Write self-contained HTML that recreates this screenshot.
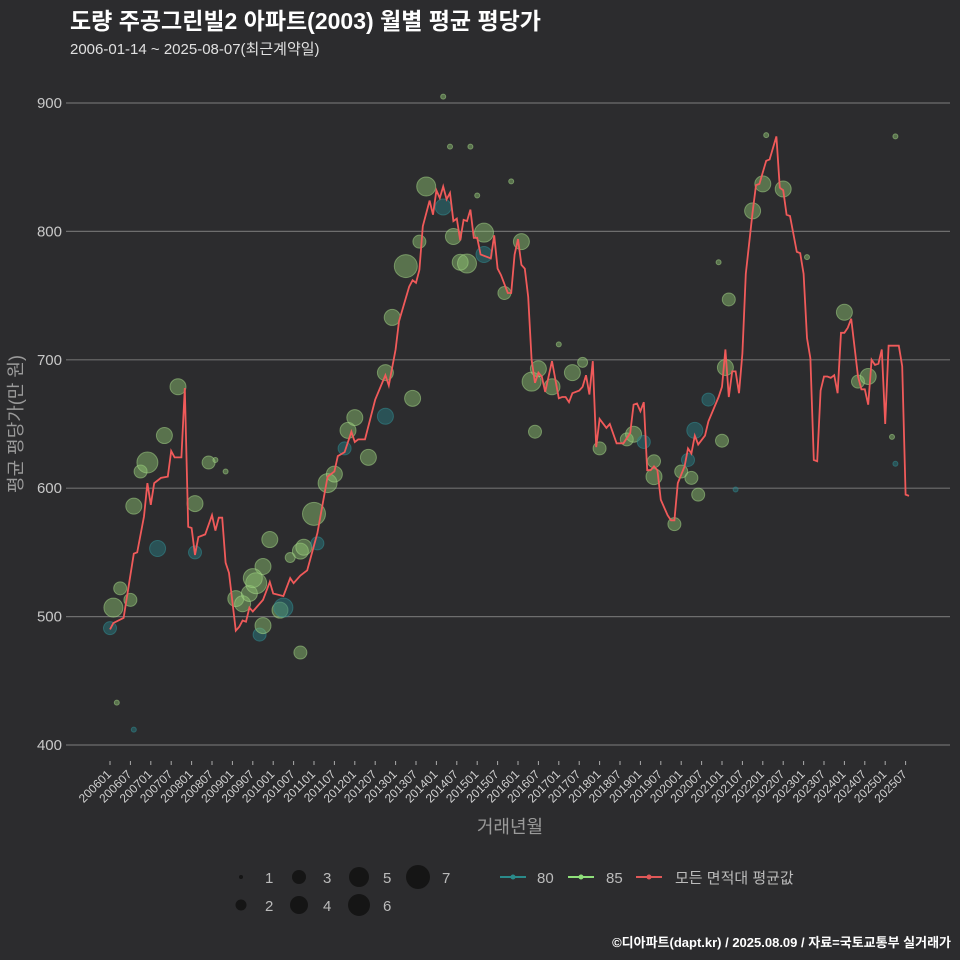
<!DOCTYPE html>
<html><head><meta charset="utf-8"><style>
body{margin:0;background:#2c2c2e;}
svg{display:block;font-family:"Liberation Sans","Noto Sans CJK KR",sans-serif;}
</style></head><body>
<svg id="chart" width="960" height="960" viewBox="0 0 960 960">
<rect width="960" height="960" fill="#2c2c2e"/>
<text x="70" y="29" fill="#ffffff" font-size="23" font-weight="bold">도량 주공그린빌2 아파트(2003) 월별 평균 평당가</text>
<text x="70" y="54" fill="#e0e0e0" font-size="15">2006-01-14 ~ 2025-08-07(최근계약일)</text>
<g id="grid"></g>
<g id="xaxis"></g>
<g id="bubbles"></g>
<g id="line"></g>
<text transform="translate(22,424) rotate(-90)" text-anchor="middle" fill="#9a9a9a" font-size="18">평균 평당가(만 원)</text>
<text x="510" y="833" text-anchor="middle" fill="#9a9a9a" font-size="18">거래년월</text>
<g font-size="15" fill="#bbbbbb">
  <circle cx="241" cy="877" r="2" fill="#151515"/>
  <text x="265" y="883">1</text>
  <circle cx="241" cy="905" r="5.5" fill="#151515"/>
  <text x="265" y="911">2</text>
  <circle cx="299" cy="877" r="7" fill="#151515"/>
  <text x="323" y="883">3</text>
  <circle cx="299" cy="905" r="9" fill="#151515"/>
  <text x="323" y="911">4</text>
  <circle cx="359" cy="877" r="10" fill="#151515"/>
  <text x="383" y="883">5</text>
  <circle cx="359" cy="905" r="11" fill="#151515"/>
  <text x="383" y="911">6</text>
  <circle cx="418" cy="877" r="12" fill="#151515"/>
  <text x="442" y="883">7</text>
  <line x1="500" y1="877" x2="526" y2="877" stroke="#2a8a8a" stroke-width="2"/>
  <circle cx="513" cy="877" r="2.5" fill="#2a8a8a"/>
  <text x="537" y="883">80</text>
  <line x1="568" y1="877" x2="594" y2="877" stroke="#8fe07a" stroke-width="2"/>
  <circle cx="581" cy="877" r="2.5" fill="#8fe07a"/>
  <text x="606" y="883">85</text>
  <line x1="636" y1="877" x2="662" y2="877" stroke="#e05858" stroke-width="2"/>
  <circle cx="649" cy="877" r="2.5" fill="#e05858"/>
  <text x="675" y="883">모든 면적대 평균값</text>
</g>
<text x="951" y="947" text-anchor="end" fill="#ffffff" font-size="13" font-weight="bold">©디아파트(dapt.kr) / 2025.08.09 / 자료=국토교통부 실거래가</text>
</svg>
<script>
const yTicks=[400,500,600,700,800,900];
const xTickLabels=["200601","200607","200701","200707","200801","200807","200901","200907","201001","201007","201101","201107","201201","201207","201301","201307","201401","201407","201501","201507","201601","201607","201701","201707","201801","201807","201901","201907","202001","202007","202101","202107","202201","202207","202301","202307","202401","202407","202501","202507"];
// average line: month index from 2006-01, value
const lineMonths=[0,1,4,7,8,10,11,12,13,15,17,18,19,21,22,23,24,25,26,28,30,31,32,33,34,35,37,38,39,40,41,42,45,47,48,51,53,54,56,58,61,64,66,67,69,71,72,73,75,78,81,82,84,85,88,89,90,91,92,94,95,96,97,98,99,100,101,102,103,104,105,106,107,108,109,112,113,114,115,117,118,119,120,121,122,123,124,125,126,127,128,130,132,133,134,135,136,138,139,140,141,142,143,144,146,147,149,151,153,154,155,156,157,158,159,160,161,162,164,165,166,167,169,170,171,172,173,175,176,179,180,181,182,183,184,185,186,187,189,190,191,193,194,196,197,198,199,200,202,203,204,205,206,207,208,209,210,211,212,213,214,215,216,217,218,220,221,222,223,224,225,226,227,228,229,232,233,234,235];
const lineValues=[490,495,499,549,550,578,604,587,604,608,609,629,624,624,678,570,569,548,562,564,579,567,577,577,542,534,489,492,497,496,507,504,513,527,518,516,530,526,532,536,565,609,613,625,628,644,636,638,638,669,688,680,708,730,757,762,760,770,804,824,813,832,826,835,825,830,808,810,793,809,808,817,795,795,782,779,797,771,766,752,752,782,794,774,771,749,700,682,690,687,675,699,670,671,671,667,674,676,679,688,673,699,632,654,647,650,635,635,643,665,666,660,667,614,614,617,614,591,579,575,575,604,617,631,627,641,634,641,652,671,679,708,671,691,691,674,705,767,815,836,837,855,856,874,834,832,813,812,784,783,767,717,701,622,621,676,687,687,686,688,674,721,721,725,732,687,677,677,665,700,696,697,708,650,711,711,695,595,594];
// bubbles: month index, value, contract count, area type
const bubbleMonths=[0,1,3,2,7,6,7,9,11,14,16,20,25,25,29,31,34,37,39,41,43,44,45,45,47,42,50,51,53,56,56,57,60,61,64,66,69,70,72,76,81,81,83,87,89,91,93,98,101,103,105,110,110,116,121,124,125,126,130,136,139,144,152,154,160,160,166,168,170,171,172,173,176,180,181,182,189,192,198,216,220,223,157,98,100,106,108,118,132,231,179,184,230,193,205,231];
const bubbleValues=[491,507,522,433,412,513,586,613,620,553,641,679,588,550,620,622,613,514,510,518,526,486,493,539,560,530,505,507,546,551,472,554,580,557,604,611,631,645,655,624,656,690,733,773,670,792,835,819,796,776,775,799,782,752,792,683,644,693,679,690,698,631,638,642,621,609,572,613,622,608,645,595,669,637,694,747,816,837,833,737,683,687,636,905,866,866,828,839,712,874,776,599,640,875,780,619];
const bubbleCounts=[3,5,3,1,1,3,4,3,6,4,4,4,4,3,3,1,1,4,4,4,6,3,4,4,4,5,4,5,2,4,3,4,7,3,5,4,3,4,4,4,4,4,4,7,4,3,5,4,4,4,5,5,4,3,4,5,3,4,4,4,2,3,3,4,3,4,3,3,3,3,4,3,3,3,4,3,4,4,4,4,3,4,3,1,1,1,1,1,1,1,1,1,1,1,1,1];
const bubbleTypes=[80,85,85,85,80,85,85,85,85,80,85,85,85,80,85,85,85,85,85,85,85,80,85,85,85,85,85,80,85,85,85,85,85,80,85,85,80,85,85,85,80,85,85,85,85,85,85,80,85,85,85,85,80,85,85,85,85,85,85,85,85,85,85,85,85,85,85,85,80,85,80,85,80,85,85,85,85,85,85,85,85,85,80,85,85,85,85,85,85,85,85,80,85,85,85,80];

const NS="http://www.w3.org/2000/svg";
const xS=m=>110+m*3.4;
const yS=v=>745-(v-400)*1.284;
const rS=n=>[0,2.5,5,6.5,8,9.5,10.5,11.5][n];
const g=document.getElementById('grid');
yTicks.forEach(t=>{
  const l=document.createElementNS(NS,'line');
  
  
  l.setAttribute('x1',66);l.setAttribute('x2',950);
  l.setAttribute('y1',yS(t));l.setAttribute('y2',yS(t));
  l.setAttribute('stroke','#6e6e6e');l.setAttribute('stroke-width','1.2');
  g.appendChild(l);
  const tx=document.createElementNS(NS,'text');
  
  
  tx.setAttribute('x',62);tx.setAttribute('y',yS(t)+5);
  tx.setAttribute('text-anchor','end');tx.setAttribute('fill','#c8c8c8');tx.setAttribute('font-size','15');
  tx.textContent=t;g.appendChild(tx);
});
const xa=document.getElementById('xaxis');
xTickLabels.forEach((lab,i)=>{
  const x=xS(i*6);
  const tk=document.createElementNS(NS,'line');
  
  
  tk.setAttribute('x1',x);tk.setAttribute('x2',x);tk.setAttribute('y1',761);tk.setAttribute('y2',765);
  tk.setAttribute('stroke','#aaaaaa');xa.appendChild(tk);
  const t=document.createElementNS(NS,'text');
  
  
  t.setAttribute('transform','translate('+(x+2)+',775) rotate(-45)');
  t.setAttribute('text-anchor','end');t.setAttribute('fill','#d0d0d0');t.setAttribute('font-size','12');
  t.textContent=lab;xa.appendChild(t);
});
const bg=document.getElementById('bubbles');
bubbleMonths.forEach((m,i)=>{
  const c=document.createElementNS(NS,'circle');
  
  
  c.setAttribute('cx',xS(m));c.setAttribute('cy',yS(bubbleValues[i]));
  c.setAttribute('r',rS(bubbleCounts[i]));
  const is80=bubbleTypes[i]===80;
  c.setAttribute('fill',is80?'rgba(40,120,125,0.5)':'rgba(145,200,115,0.45)');
  c.setAttribute('stroke',is80?'rgba(50,140,145,0.55)':'rgba(170,220,140,0.5)');
  bg.appendChild(c);
});
const p=document.createElementNS(NS,'path');


p.setAttribute('d',lineMonths.map((m,i)=>(i?'L':'M')+xS(m).toFixed(1)+','+yS(lineValues[i]).toFixed(1)).join(''));
p.setAttribute('fill','none');p.setAttribute('stroke','#f05a5a');p.setAttribute('stroke-width','1.8');
document.getElementById('line').appendChild(p);
</script>
</body></html>
